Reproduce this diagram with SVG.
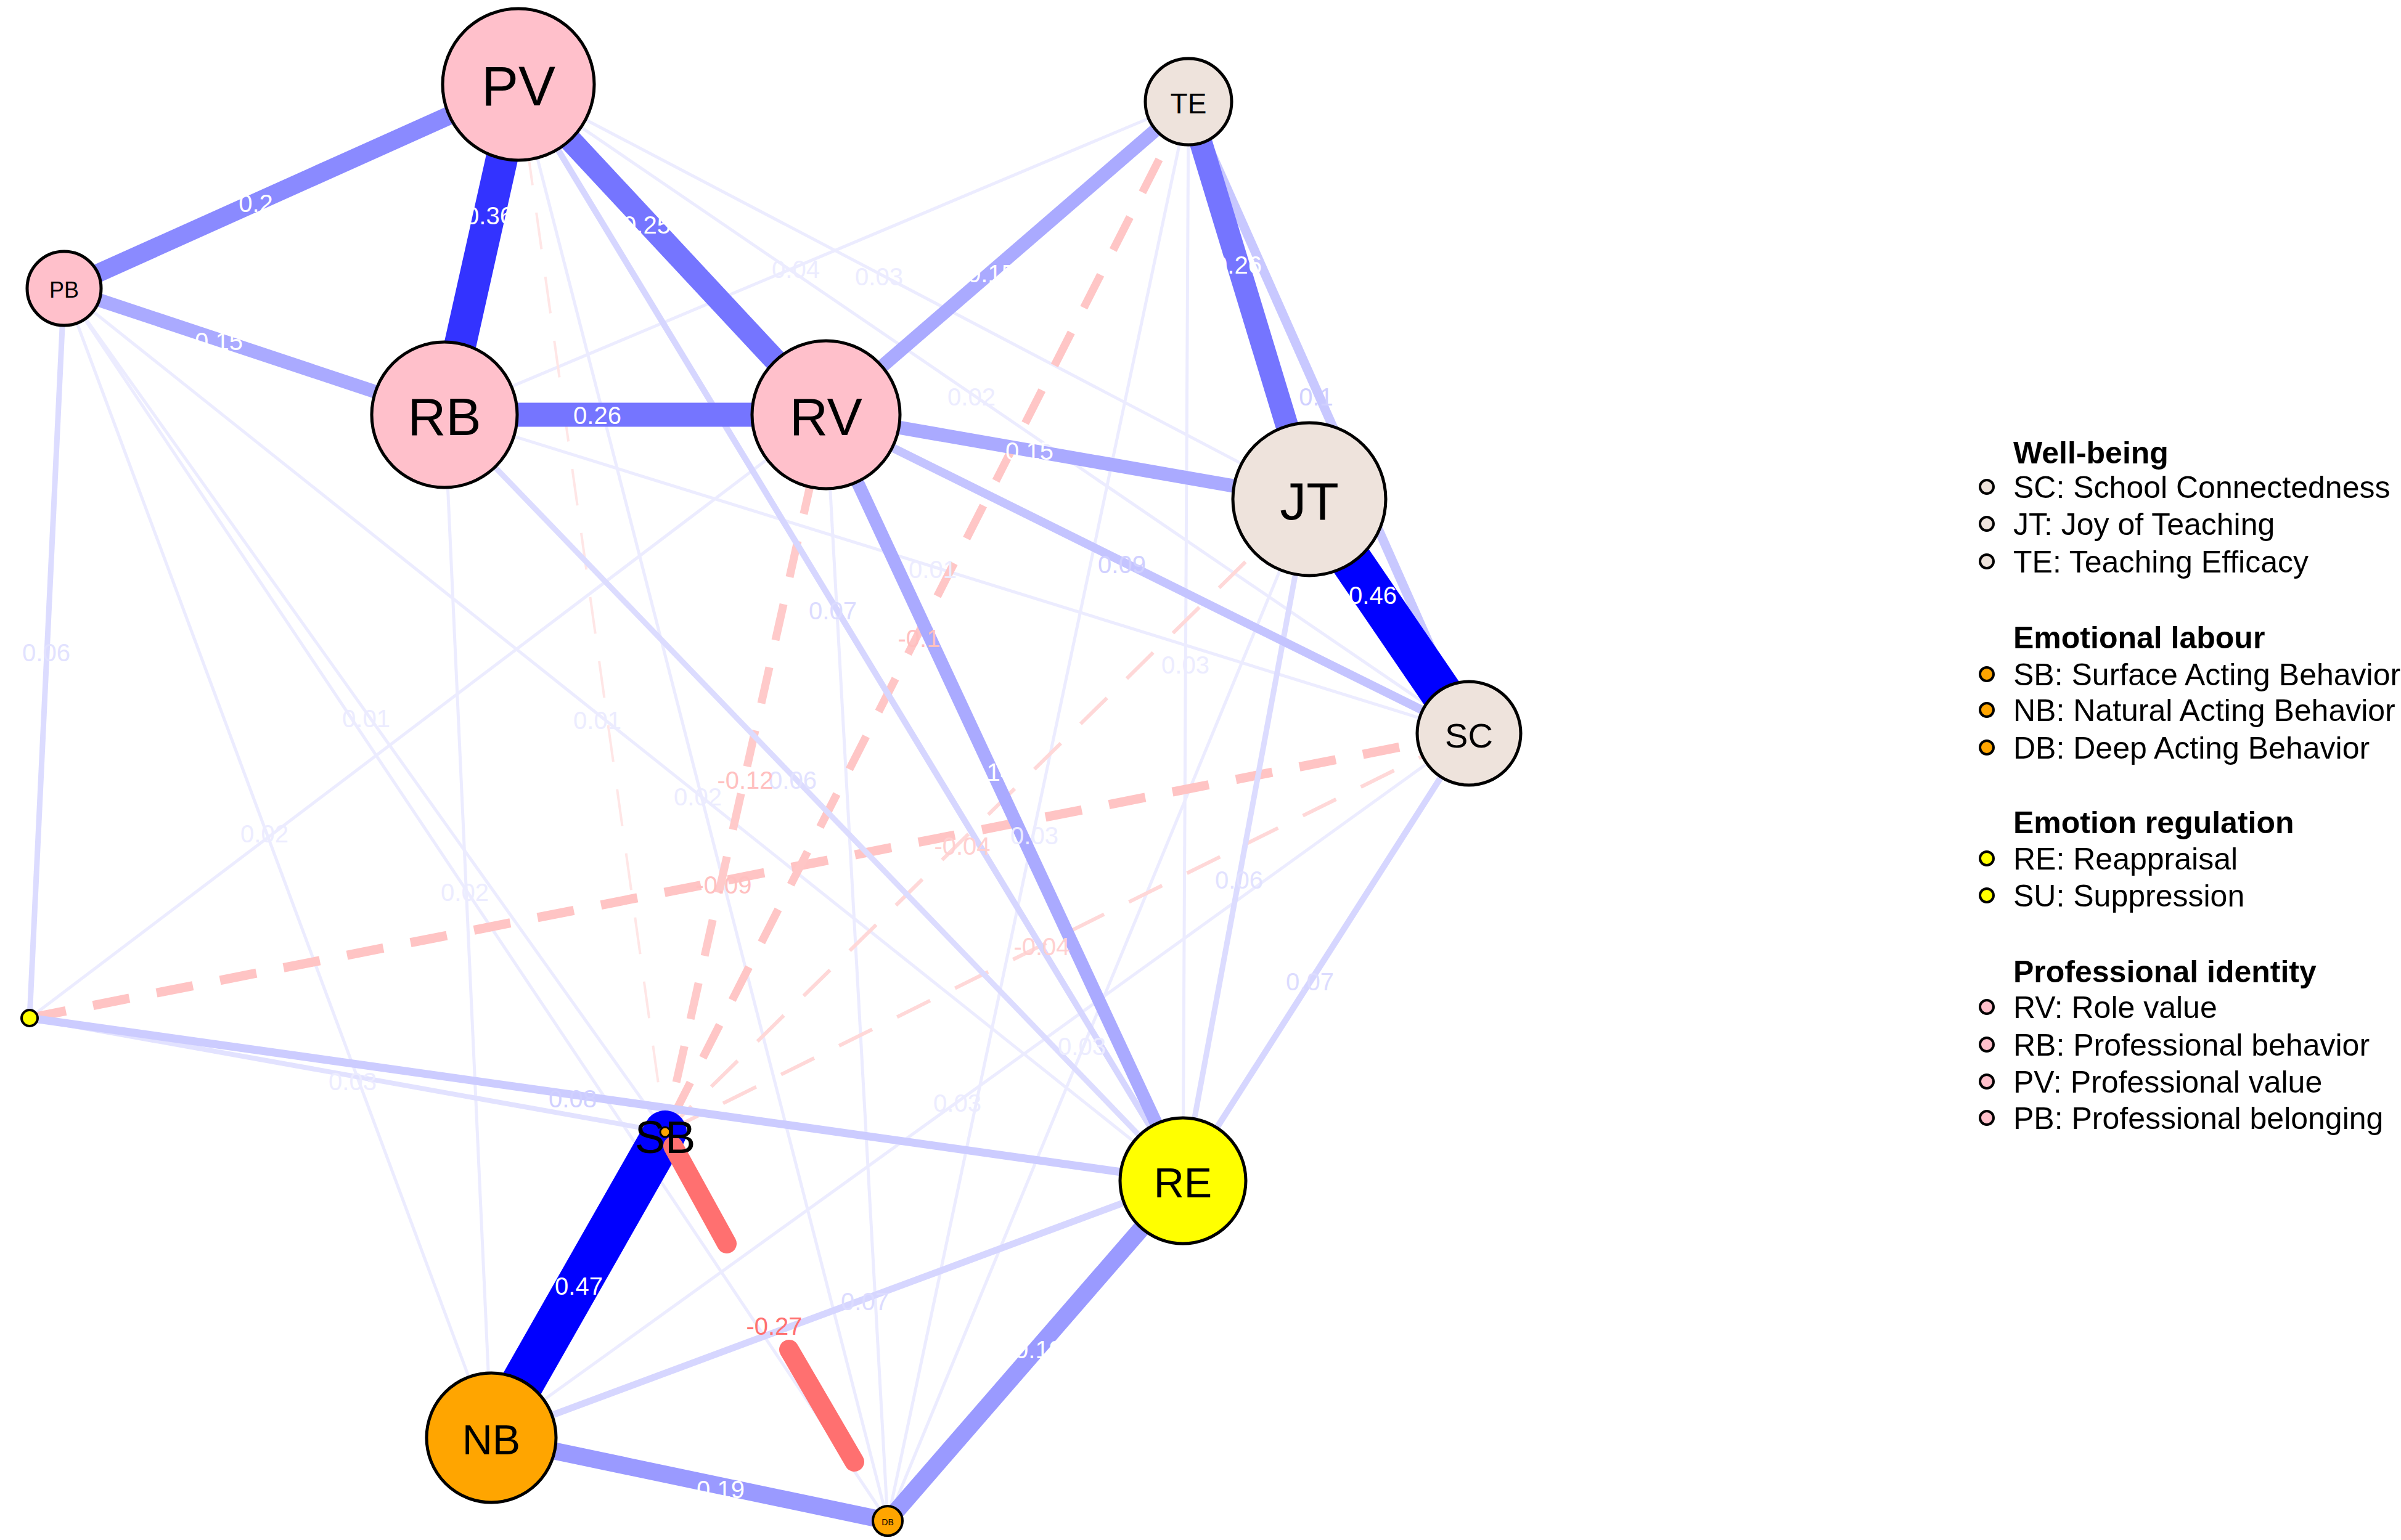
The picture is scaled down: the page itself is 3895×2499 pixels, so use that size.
<svg xmlns="http://www.w3.org/2000/svg" width="3895" height="2499" viewBox="0 0 3895 2499">
<style>
text{font-family:"Liberation Sans",Arial,sans-serif}
.e{fill:none;stroke-linecap:butt}
.p{stroke:#ececff;stroke-width:5}
.d{stroke-dasharray:60 45}
.n{stroke:#000;stroke-width:5}
.nl{text-anchor:middle;dominant-baseline:central;fill:#000}
.l{font-size:40px;text-anchor:middle;dominant-baseline:central}
.lw{fill:#fff}
.bg{fill:#fff}
.lg{font-size:50px;fill:#000}
.lh{font-size:50px;font-weight:bold;fill:#000}
.ld{stroke:#000;stroke-width:4}
</style>
<rect width="3895" height="2499" fill="#fff"/>
<g id="connectors">
<!-- pale edges -->
<line class="e p" x1="1928" y1="165" x2="1919" y2="1916"/>
<line class="e p" x1="841" y1="137" x2="2124" y2="810"/>
<line class="e p" x1="721" y1="673" x2="1928" y2="165"/>
<line class="e p" x1="841" y1="137" x2="2383" y2="1190"/>
<line class="e p" x1="721" y1="673" x2="2383" y2="1190"/>
<line class="e p" x1="104" y1="468" x2="797" y2="2333"/>
<line class="e p" x1="104" y1="468" x2="1079" y2="1837"/>
<line class="e p" x1="104" y1="468" x2="1440" y2="2468"/>
<line class="e p" x1="104" y1="468" x2="1919" y2="1916"/>
<line class="e p" x1="797" y1="2333" x2="2383" y2="1190"/>
<line class="e p" x1="1928" y1="165" x2="1440" y2="2468"/>
<line class="e p" x1="2124" y1="810" x2="1440" y2="2468"/>
<line class="e p" x1="721" y1="673" x2="797" y2="2333"/>
<line class="e p" x1="48" y1="1652" x2="1340" y2="673"/>
<line class="e p" x1="841" y1="137" x2="1440" y2="2468"/>
<line class="e p" x1="1340" y1="673" x2="1440" y2="2468"/>
<line class="e p" style="stroke-width:8;stroke:#e2e2ff" x1="48" y1="1652" x2="1079" y2="1837"/>
<!-- dashed negatives -->
<line class="e d" style="stroke:#ffe6e6;stroke-width:4" x1="841" y1="137" x2="1079" y2="1837"/>
<line class="e d" style="stroke:#ffd8d8;stroke-width:6" x1="1079" y1="1837" x2="2124" y2="810"/>
<line class="e d" style="stroke:#ffd8d8;stroke-width:6" x1="1079" y1="1837" x2="2383" y2="1190"/>
<line class="e d" style="stroke:#ffc4c4;stroke-width:15" x1="48" y1="1652" x2="2383" y2="1190"/>
<line class="e d" style="stroke:#ffc6c6;stroke-width:13" x1="1928" y1="165" x2="1079" y2="1837"/>
<line class="e d" style="stroke:#ffcaca;stroke-width:13" x1="1340" y1="673" x2="1079" y2="1837"/>
<!-- light positives -->
<line class="e" style="stroke:#dcdcff;stroke-width:9" x1="104" y1="468" x2="48" y2="1652"/>
<line class="e" style="stroke:#dcdcff;stroke-width:9" x1="721" y1="673" x2="1919" y2="1916"/>
<line class="e" style="stroke:#d6d6ff;stroke-width:10" x1="841" y1="137" x2="1919" y2="1916"/>
<line class="e" style="stroke:#dcdcff;stroke-width:9" x1="2124" y1="810" x2="1919" y2="1916"/>
<line class="e" style="stroke:#d6d6ff;stroke-width:10" x1="2383" y1="1190" x2="1919" y2="1916"/>
<line class="e" style="stroke:#d6d6ff;stroke-width:11" x1="797" y1="2333" x2="1919" y2="1916"/>
<line class="e" style="stroke:#ccccff;stroke-width:13" x1="48" y1="1652" x2="1919" y2="1916"/>
<line class="e" style="stroke:#c4c4ff;stroke-width:14" x1="1340" y1="673" x2="2383" y2="1190"/>
<line class="e" style="stroke:#c8c8ff;stroke-width:15" x1="1928" y1="165" x2="2383" y2="1190"/>
<line class="e" style="stroke:#aaaaff;stroke-width:21" x1="1340" y1="673" x2="1919" y2="1916"/>
<line class="e" style="stroke:#aaaaff;stroke-width:22" x1="104" y1="468" x2="721" y2="673"/>
<line class="e" style="stroke:#aaaaff;stroke-width:22" x1="1340" y1="673" x2="1928" y2="165"/>
<line class="e" style="stroke:#aaaaff;stroke-width:22" x1="1340" y1="673" x2="2124" y2="810"/>
<line class="e" style="stroke:#9a9aff;stroke-width:28" x1="797" y1="2333" x2="1440" y2="2468"/>
<line class="e" style="stroke:#9a9aff;stroke-width:28" x1="1440" y1="2468" x2="1919" y2="1916"/>
<line class="e" style="stroke:#8a8aff;stroke-width:30" x1="841" y1="137" x2="104" y2="468"/>
<line class="e" style="stroke:#7575ff;stroke-width:37" x1="841" y1="137" x2="1340" y2="673"/>
<line class="e" style="stroke:#7575ff;stroke-width:39" x1="721" y1="673" x2="1340" y2="673"/>
<line class="e" style="stroke:#7575ff;stroke-width:37" x1="1928" y1="165" x2="2124" y2="810"/>
<line class="e" style="stroke:#3333ff;stroke-width:52" x1="841" y1="137" x2="721" y2="673"/>
<line class="e" style="stroke:#0000ff;stroke-width:68" x1="2124" y1="810" x2="2383" y2="1190"/>
<line class="e" style="stroke:#0000ff;stroke-width:70;stroke-linecap:round" x1="1079" y1="1837" x2="797" y2="2333"/>
<!-- strong negative -->
<line class="e" style="stroke:#ff7070;stroke-width:32;stroke-linecap:round" x1="1092" y1="1860" x2="1179" y2="2018"/>
<line class="e" style="stroke:#ff7070;stroke-width:32;stroke-linecap:round" x1="1280" y1="2190" x2="1386" y2="2372"/>
<!-- labels -->
<g class="l">
<text class="lw" x="415" y="330">0.2</text>
<text class="lw" x="794" y="350">0.36</text>
<text class="lw" x="1049" y="365">0.25</text>
<text class="lw" x="355" y="554">0.15</text>
<text class="lw" x="969" y="674">0.26</text>
<text class="lw" x="1608" y="444">0.15</text>
<text class="lw" x="1670" y="732">0.15</text>
<text class="lw" x="2008" y="430">0.26</text>
<text class="lw" x="2227" y="966">0.46</text>
<text class="lw" x="1606" y="1253">0.14</text>
<text class="lw" x="939" y="2087">0.47</text>
<text class="lw" x="1169" y="2417">0.19</text>
<text class="lw" x="1685" y="2190">0.19</text>
<text fill="#d0d0ff" x="1820" y="916">0.09</text>
<text fill="#d0d0ff" x="2135" y="644">0.1</text>
<text fill="#d0d0ff" x="929" y="1783">0.08</text>
<text fill="#dcdcff" x="1403" y="2112">0.07</text>
<text fill="#e2e2ff" x="75" y="1059">0.06</text>
<text fill="#e2e2ff" x="1286" y="1266">0.06</text>
<text fill="#dcdcff" x="1351" y="991">0.07</text>
<text fill="#e2e2ff" x="2010" y="1428">0.06</text>
<text fill="#dcdcff" x="2125" y="1593">0.07</text>
<text fill="#ececff" x="1923" y="1079">0.03</text>
<text fill="#ececff" x="1426" y="449">0.03</text>
<text fill="#ececff" x="1291" y="437">0.04</text>
<text fill="#ececff" x="1576" y="644">0.02</text>
<text fill="#ececff" x="1513" y="924">0.01</text>
<text fill="#ececff" x="572" y="1755">0.03</text>
<text fill="#ececff" x="429" y="1353">0.02</text>
<text fill="#ececff" x="594" y="1166">0.01</text>
<text fill="#ececff" x="754" y="1448">0.02</text>
<text fill="#ececff" x="969" y="1169">0.01</text>
<text fill="#ececff" x="1553" y="1790">0.03</text>
<text fill="#ececff" x="1678" y="1356">0.03</text>
<text fill="#ececff" x="1755" y="1698">0.03</text>
<text fill="#ececff" x="1132" y="1293">0.02</text>
<text fill="#ffc0c0" x="1174" y="1436">-0.09</text>
<text fill="#ffc0c0" x="1491" y="1036">-0.1</text>
<text fill="#ffc0c0" x="1209" y="1266">-0.12</text>
<text fill="#ffd0d0" x="1561" y="1373">-0.04</text>
<text fill="#ffd0d0" x="1690" y="1536">-0.04</text>
<text fill="#ff7070" x="1256" y="2152">-0.27</text>
</g>
</g>
<g id="PV"><circle class="n" cx="841" cy="137" r="123" fill="#ffc0cb"/><text class="nl" x="841" y="140" font-size="90">PV</text></g>
<g id="TE"><circle class="n" cx="1928" cy="165" r="70" fill="#eee3dc"/><text class="nl" x="1928" y="168" font-size="46">TE</text></g>
<g id="PB"><circle class="n" cx="104" cy="468" r="60" fill="#ffc0cb"/><text class="nl" x="104" y="470" font-size="36">PB</text></g>
<g id="RB"><circle class="n" cx="721" cy="673" r="118" fill="#ffc0cb"/><text class="nl" x="721" y="676" font-size="86">RB</text></g>
<g id="RV"><circle class="n" cx="1340" cy="673" r="120" fill="#ffc0cb"/><text class="nl" x="1340" y="676" font-size="86">RV</text></g>
<g id="JT"><circle class="n" cx="2124" cy="810" r="124" fill="#eee3dc"/><text class="nl" x="2124" y="813" font-size="86">JT</text></g>
<g id="SC"><circle class="n" cx="2383" cy="1190" r="84" fill="#eee3dc"/><text class="nl" x="2383" y="1193" font-size="56">SC</text></g>
<g id="SU"><circle class="n" cx="48" cy="1652" r="13" fill="#ffff00" style="stroke-width:4"/></g>
<g id="SB"><circle cx="1079" cy="1837" r="8" fill="#ffa500" stroke="#000" stroke-width="3"/><text class="nl" x="1079" y="1845" font-size="74">SB</text></g>
<g id="RE"><circle class="n" cx="1919" cy="1916" r="102" fill="#ffff00"/><text class="nl" x="1919" y="1919" font-size="68">RE</text></g>
<g id="NB"><circle class="n" cx="797" cy="2333" r="105" fill="#ffa500"/><text class="nl" x="797" y="2336" font-size="68">NB</text></g>
<g id="DB"><circle class="n" cx="1440" cy="2468" r="24" fill="#ffa500" style="stroke-width:4"/><text class="nl" x="1440" y="2470" font-size="14">DB</text></g>
<g id="legend">
<text class="lh" x="3266" y="752">Well-being</text>
<circle class="ld" cx="3223" cy="790" r="11" fill="#eee3dc"/><text class="lg" x="3266" y="808">SC: School Connectedness</text>
<circle class="ld" cx="3223" cy="850" r="11" fill="#eee3dc"/><text class="lg" x="3266" y="868">JT: Joy of Teaching</text>
<circle class="ld" cx="3223" cy="911" r="11" fill="#eee3dc"/><text class="lg" x="3266" y="929">TE: Teaching Efficacy</text>
<text class="lh" x="3266" y="1052">Emotional labour</text>
<circle class="ld" cx="3223" cy="1094" r="11" fill="#ffa500"/><text class="lg" x="3266" y="1112">SB: Surface Acting Behavior</text>
<circle class="ld" cx="3223" cy="1152" r="11" fill="#ffa500"/><text class="lg" x="3266" y="1170">NB: Natural Acting Behavior</text>
<circle class="ld" cx="3223" cy="1213" r="11" fill="#ffa500"/><text class="lg" x="3266" y="1231">DB: Deep Acting Behavior</text>
<text class="lh" x="3266" y="1352">Emotion regulation</text>
<circle class="ld" cx="3223" cy="1393" r="11" fill="#ffff00"/><text class="lg" x="3266" y="1411">RE: Reappraisal</text>
<circle class="ld" cx="3223" cy="1453" r="11" fill="#ffff00"/><text class="lg" x="3266" y="1471">SU: Suppression</text>
<text class="lh" x="3266" y="1594">Professional identity</text>
<circle class="ld" cx="3223" cy="1634" r="11" fill="#ffc0cb"/><text class="lg" x="3266" y="1652">RV: Role value</text>
<circle class="ld" cx="3223" cy="1695" r="11" fill="#ffc0cb"/><text class="lg" x="3266" y="1713">RB: Professional behavior</text>
<circle class="ld" cx="3223" cy="1755" r="11" fill="#ffc0cb"/><text class="lg" x="3266" y="1773">PV: Professional value</text>
<circle class="ld" cx="3223" cy="1814" r="11" fill="#ffc0cb"/><text class="lg" x="3266" y="1832">PB: Professional belonging</text>
</g>
</svg>
